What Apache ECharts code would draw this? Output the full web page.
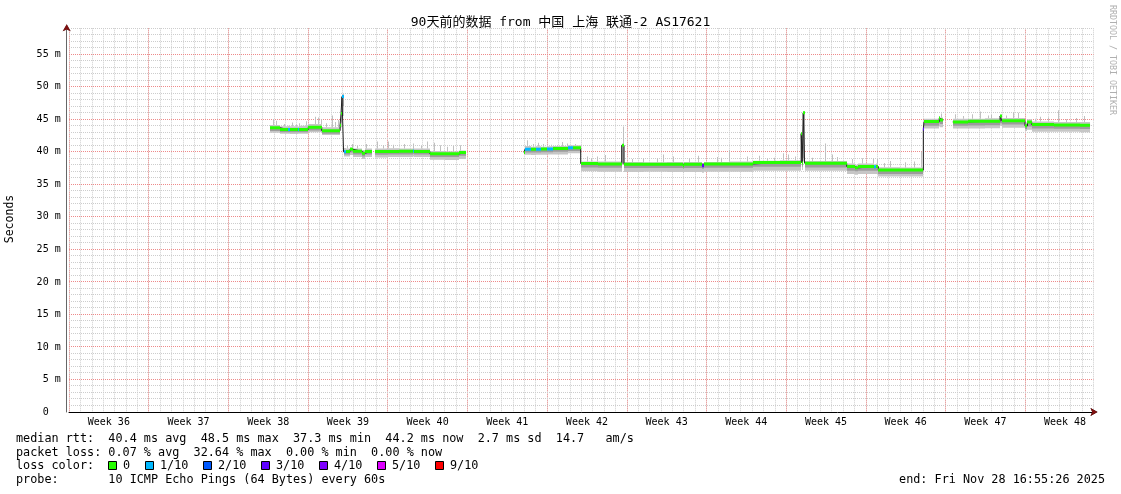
<!DOCTYPE html>
<html><head><meta charset="utf-8">
<script src="https://cdn.jsdelivr.net/npm/echarts@6/dist/echarts.min.js"></script>
<style>html,body{margin:0;padding:0;background:#fff}#c{width:1121px;height:494px}</style>
</head><body><div id="c"></div>
<script>
// ---------------- data ----------------
const titleText = '90天前的数据 from 中国 上海 联通-2 AS17621';
const yAxisName = 'Seconds';
const weekLabels = ['Week 36','Week 37','Week 38','Week 39','Week 40','Week 41','Week 42','Week 43','Week 44','Week 45','Week 46','Week 47','Week 48'];
const majorMs = [5, 10, 15, 20, 25, 30, 35, 40, 45, 50, 55];
const lossLabels = ['0','1/10','2/10','3/10','4/10','5/10','9/10'];
const lossColors = ['#26ff00','#00b8ff','#0059ff','#5e00ff','#7e00ff','#dd00ff','#ff0000'];
const statLines = [
  'median rtt:  40.4 ms avg  48.5 ms max  37.3 ms min  44.2 ms now  2.7 ms sd  14.7   am/s',
  'packet loss: 0.07 % avg  32.64 % max  0.00 % min  0.00 % now',
  'loss color:',
  'probe:       10 ICMP Echo Pings (64 Bytes) every 60s'
];
const endText = 'end: Fri Nov 28 16:55:26 2025';
const sideText = 'RRDTOOL / TOBI OETIKER';

// interval boundaries (days since first week grid line); value i holds from days[i] to days[i+1]
const days = [17.66,18.54,19.25,19.40,20.10,20.22,21.02,22.20,23.81,23.90,23.98,24.12,24.30,24.69,24.95,25.71,26.00,26.59,26.88,28.00,
  29.00,30.20,30.30,31.71,33.00,34.30,34.88,39.97,40.05,40.60,41.00,41.50,42.00,42.52,43.84,44.30,44.95,46.50,48.55,48.76,
  50.50,52.50,53.90,54.05,55.65,55.80,58.00,60.09,62.50,64.32,64.41,64.50,64.62,66.50,68.32,69.05,69.35,70.75,70.85,71.10,
  73.00,75.05,75.11,76.45,76.55,76.81,77.63,79.00,80.50,81.79,81.94,83.98,84.20,84.57,86.50,88.80,89.70];
// median rtt (ms)
const median = [43.70,43.45,43.45,43.45,43.45,43.45,43.80,43.25,44.10,45.90,48.50,40.00,40.05,40.40,40.10,39.80,40.05,null,40.05,40.05,
  40.10,40.15,40.05,39.70,39.70,39.90,null,39.90,40.40,40.40,40.40,40.45,40.45,40.50,40.65,40.65,38.20,38.15,41.00,38.10,
  38.10,38.10,37.85,38.10,37.85,38.15,38.15,38.35,38.35,42.80,38.30,46.00,38.25,38.25,37.75,37.55,37.75,37.70,37.75,37.20,
  37.20,43.50,44.65,45.20,44.90,null,44.60,44.70,44.70,45.50,44.80,44.00,44.60,44.20,44.15,44.10];
// loss class index into lossColors
const loss = [0,0,1,0,1,0,0,0,0,0,1,1,0,0,0,0,0,0,0,0,
  0,1,0,0,0,0,0,0,1,0,1,0,1,0,1,0,0,0,0,0,
  0,0,0,0,3,0,0,0,0,0,0,0,0,0,0,0,0,1,0,0,
  0,3,0,0,0,0,0,0,0,0,0,0,0,0,0,0];
// smoke: outer band
const smokeLo = [42.95,42.80,42.80,42.75,42.80,42.80,43.00,42.60,43.30,43.80,45.50,39.30,39.30,39.50,39.20,38.90,39.20,null,39.15,39.20,
  39.20,39.30,39.20,38.80,38.75,38.90,null,39.60,39.55,39.50,39.55,39.55,39.60,39.60,39.80,39.80,37.00,36.95,38.00,36.90,
  36.95,36.90,36.80,36.90,36.80,36.95,36.95,37.10,37.10,38.50,37.20,38.50,37.10,37.10,36.60,36.50,36.60,36.60,36.60,36.20,
  36.20,37.00,43.60,43.90,43.80,null,43.60,43.60,43.65,44.00,43.70,43.20,43.40,43.10,43.10,43.00];
const smokeHi = [44.15,43.95,44.00,43.95,43.90,44.00,44.30,43.80,44.60,46.30,48.90,40.60,40.50,40.70,40.50,40.30,40.50,null,40.50,40.55,
  40.50,40.60,40.50,40.15,40.10,40.20,null,40.10,40.90,40.80,40.85,40.80,40.85,40.90,41.00,41.00,38.50,38.50,41.20,38.45,
  38.40,38.45,38.30,38.45,38.30,38.45,38.50,38.65,38.70,43.00,38.70,46.20,38.60,38.60,38.20,38.00,38.20,38.10,38.20,37.65,
  37.60,43.70,45.10,45.50,45.30,null,45.10,45.10,45.15,45.70,45.20,44.50,45.00,44.65,44.60,44.60];
// smoke: darker core band
const coreLo = [43.20,43.00,43.00,43.00,43.00,43.00,43.30,42.80,43.70,44.50,47.00,39.60,39.60,39.90,39.60,39.30,39.60,null,39.55,39.60,
  39.60,39.70,39.60,39.20,39.20,39.40,null,39.80,39.90,39.90,39.90,39.95,39.95,40.00,40.15,40.15,37.60,37.55,38.20,37.50,
  37.50,37.50,37.40,37.50,37.40,37.55,37.55,37.70,37.70,39.00,37.70,39.00,37.60,37.60,37.10,37.00,37.10,37.10,37.10,36.60,
  36.60,37.50,44.00,44.40,44.30,null,44.00,44.05,44.10,44.40,44.20,43.50,43.90,43.60,43.55,43.50];
const coreHi = [43.75,43.50,43.50,43.50,43.50,43.50,43.85,43.30,44.15,46.00,48.60,40.05,40.10,40.45,40.15,39.85,40.10,null,40.10,40.10,
  40.15,40.20,40.10,39.75,39.75,39.95,null,39.95,40.45,40.45,40.45,40.50,40.50,40.55,40.70,40.70,38.25,38.20,41.05,38.15,
  38.15,38.15,37.90,38.15,37.90,38.20,38.20,38.40,38.40,42.85,38.35,46.05,38.30,38.30,37.80,37.60,37.80,37.75,37.80,37.25,
  37.25,43.55,44.70,45.25,44.95,null,44.65,44.75,44.75,45.55,44.85,44.05,44.65,44.25,44.20,44.15];
// single slow pings sticking out of the smoke
const spikeDays = [17.95,18.2,19.56,20.2,20.8,21.6,21.9,22.1,23.08,23.37,24.45,24.83,26.09,27.03,28.05,28.46,30.22,31.42,32.6,33.73,
  34.35,40.21,40.76,41.64,42.87,43.75,44.45,45.48,46.36,47.09,48.7,50.43,51.63,53.09,56.9,58.0,59.54,61.29,62.75,63.78,
  66.41,67.47,69.64,70.66,70.96,72.13,73.45,74.85,76.6,77.84,79.33,80.03,81.0,82.93,83.37,85.3,86.88,88.46,
  18.9,19.9,22.6,23.6,25.3,27.6,29.4,30.9,32.1,33.2,41.2,42.3,43.3,45.9,49.5,52.2,54.5,55.3,57.3,60.6,
  61.9,63.2,65.3,67.0,68.8,71.6,74.2,78.5,80.7,82.3,84.9,86.0,87.6,89.2];
const spikeTops = [45.0,44.8,44.5,44.4,44.7,45.4,45.3,45.0,45.6,44.6,41.0,41.2,41.2,41.6,41.6,41.1,41.3,41.6,41.0,40.9,
  41.0,41.8,41.2,41.2,41.0,41.3,41.2,39.3,39.3,39.5,43.9,39.0,39.0,39.3,39.2,40.3,39.3,39.0,39.8,39.3,
  41.3,39.2,39.0,39.0,38.9,38.6,38.4,40.0,45.9,45.8,45.8,46.2,45.7,46.1,46.0,45.4,46.4,45.2,
  44.3,44.2,44.4,44.9,40.9,41.0,41.2,40.9,41.4,40.8,41.4,41.1,41.5,39.0,38.9,39.6,39.0,39.4,39.1,39.4,
  39.1,39.6,39.1,39.6,38.9,38.3,38.5,45.5,45.6,45.6,45.1,45.3,45.0,45.5];

// ---------------- chart ----------------
const MONO = '"DejaVu Sans Mono", "Noto Sans CJK SC", monospace';
const RED = '#ee8a8a', GRY = '#cdcdcd', ARROW = '#7f1010';
const Y_MAX = 59, X_MAX = 90;
const minorMs = [];
for (let v = 1; v <= Y_MAX; v++) if (majorMs.indexOf(v) < 0) minorMs.push(v);

const smokeData = [], bandData = [], lineData = [];
for (let i = 0; i < median.length; i++) {
  const t0 = days[i], t1 = days[i + 1], v = median[i];
  if (v === null) { lineData.push([t0, null]); continue; }
  smokeData.push([t0, t1, smokeLo[i], smokeHi[i], coreLo[i], coreHi[i]]);
  bandData.push([t0, t1, v, loss[i]]);
  lineData.push([t0, v], [t1, v]);
}
const spikeData = spikeDays.map((d, k) => {
  let i = 0; while (i < median.length - 1 && days[i + 1] <= d) i++;
  return [d, smokeHi[i], spikeTops[k]];
});

function renderGrid(params, api) {
  const kids = [];
  const add = (v, color) => {
    const a = api.coord([0, v]), b = api.coord([X_MAX, v]);
    const y = Math.round(a[1] - 0.5) + 0.5;
    kids.push({type: 'line', shape: {x1: a[0], y1: y, x2: b[0], y2: y}, style: {stroke: color, lineWidth: 1, lineDash: [1, 1], fill: null}});
  };
  minorMs.forEach(v => add(v, GRY));
  majorMs.forEach(v => add(v, RED));
  return {type: 'group', children: kids};
}
function renderSmoke(params, api) {
  const a = api.coord([api.value(0), api.value(3)]), b = api.coord([api.value(1), api.value(2)]);
  const c = api.coord([api.value(0), api.value(5)]), d = api.coord([api.value(1), api.value(4)]);
  const x0 = Math.round(a[0]), x1 = Math.max(x0 + 1, Math.round(b[0]));
  return {type: 'group', children: [
    {type: 'rect', shape: {x: x0, y: a[1], width: x1 - x0, height: b[1] - a[1]}, style: {fill: '#c6c6c6'}},
    {type: 'rect', shape: {x: x0, y: c[1], width: x1 - x0, height: d[1] - c[1]}, style: {fill: '#9c9c9c'}}
  ]};
}
function renderSpike(params, api) {
  const p = api.coord([api.value(0), api.value(2)]), q = api.coord([api.value(0), api.value(1)]);
  return {type: 'rect', shape: {x: Math.round(p[0]), y: p[1], width: 1, height: q[1] - p[1]}, style: {fill: '#c0c0c0'}};
}
function renderBand(params, api) {
  const a = api.coord([api.value(0), api.value(2)]), b = api.coord([api.value(1), api.value(2)]);
  const x0 = Math.round(a[0]), x1 = Math.max(x0 + 1, Math.round(b[0]));
  return {type: 'rect', shape: {x: x0, y: a[1] - 1.5, width: x1 - x0, height: 3}, style: {fill: lossColors[api.value(3)]}};
}

const graphic = [
  {type: 'text', x: 560.5, y: 23, silent: true, style: {text: titleText, font: '13px ' + MONO, fill: '#000', textAlign: 'center', textVerticalAlign: 'middle'}},
  {type: 'text', x: 10, y: 219, rotation: Math.PI / 2, silent: true, style: {text: yAxisName, font: '11.5px ' + MONO, fill: '#000', textAlign: 'center', textVerticalAlign: 'middle'}},
  {type: 'text', x: 1112, y: 60, rotation: -Math.PI / 2, silent: true, style: {text: sideText, font: '8.3px ' + MONO, fill: '#b0b0b0', textAlign: 'center', textVerticalAlign: 'middle'}},
  {type: 'text', x: 1105, y: 480.3, silent: true, style: {text: endText, font: '11.8px ' + MONO, fill: '#000', textAlign: 'right', textVerticalAlign: 'middle'}}
];
const lineY = [438.5, 452.5, 466.3, 480.3];
statLines.forEach((s, i) => graphic.push({type: 'text', x: 16, y: lineY[i], silent: true,
  style: {text: s, font: '11.8px ' + MONO, fill: '#000', textAlign: 'left', textVerticalAlign: 'middle'}}));
const boxX = [108, 145, 203, 261, 319, 377, 435];
lossLabels.forEach((l, i) => {
  graphic.push({type: 'rect', silent: true, shape: {x: boxX[i] + 0.5, y: 461.5, width: 8, height: 8},
    style: {fill: lossColors[i], stroke: '#000', lineWidth: 1}});
  graphic.push({type: 'text', x: boxX[i] + 15, y: 466.3, silent: true,
    style: {text: l, font: '11.8px ' + MONO, fill: '#000', textAlign: 'left', textVerticalAlign: 'middle'}});
});

const hidden = {axisLine: {show: false}, axisTick: {show: false}, axisLabel: {show: false}};
const chart = echarts.init(document.getElementById('c'), null, {renderer: 'canvas'});
chart.setOption({
  animation: false,
  backgroundColor: '#fff',
  grid: {left: 69, right: 27.5, top: 28.3, bottom: 82, containLabel: false, outerBoundsMode: 'none'},
  xAxis: [
    // daily minor grid + axis line
    {type: 'value', min: 0, max: X_MAX, interval: 1, position: 'bottom',
      axisLine: {show: true, onZero: false, lineStyle: {color: '#000', width: 1}, symbol: ['none', 'arrow'], symbolSize: [6, 7], symbolOffset: [0, 4]},
      axisTick: {show: false}, axisLabel: {show: false},
      splitLine: {show: true, lineStyle: {color: GRY, type: [1, 1], width: 1}}},
    // week labels, centred on each week
    {type: 'value', min: 0, max: X_MAX, interval: 3.5, position: 'bottom',
      axisLine: {show: false}, axisTick: {show: false}, splitLine: {show: false},
      axisLabel: {show: true, margin: 5, fontFamily: MONO, fontSize: 10, color: '#000',
        formatter: v => { const k = (v - 3.5) / 7; return (Math.abs(k - Math.round(k)) < 1e-6 && weekLabels[Math.round(k)]) ? weekLabels[Math.round(k)] : ''; }}},
    // weekly major grid
    Object.assign({type: 'value', min: 0, max: X_MAX, interval: 7, position: 'bottom',
      splitLine: {show: true, showMinLine: true, showMaxLine: false, lineStyle: {color: RED, type: [1, 1], width: 1}}}, hidden),
    // arrow head
    {type: 'value', min: 0, max: X_MAX, position: 'bottom', axisTick: {show: false}, axisLabel: {show: false}, splitLine: {show: false},
      axisLine: {show: true, onZero: false, lineStyle: {color: ARROW, opacity: 0}, symbol: ['none', 'arrow'], symbolSize: [6, 7], symbolOffset: [0, 4]}}
  ],
  yAxis: [
    {type: 'value', min: 0, max: Y_MAX, interval: 1, offset: 2.3, position: 'left',
      axisLine: {show: true, onZero: false, lineStyle: {color: '#666', width: 1}, symbol: ['none', 'arrow'], symbolSize: [6, 7], symbolOffset: [0, 4]},
      axisTick: {show: false},
      axisLabel: {margin: 6, fontFamily: MONO, fontSize: 10, color: '#000',
        formatter: v => (v % 5 === 0) ? (v === 0 ? '0  ' : v + ' m') : ''},
      splitLine: {show: false}},
    {type: 'value', min: 0, max: Y_MAX, offset: 2.3, position: 'left', axisTick: {show: false}, axisLabel: {show: false}, splitLine: {show: false},
      axisLine: {show: true, onZero: false, lineStyle: {color: ARROW, opacity: 0}, symbol: ['none', 'arrow'], symbolSize: [6, 7], symbolOffset: [0, 4]}}
  ],
  series: [
    // horizontal grid: 1 ms minor (grey), 5 ms major (red)
    {type: 'custom', xAxisIndex: 0, yAxisIndex: 0, renderItem: renderGrid, data: [[0, 0]], encode: {x: 0, y: 1}, clip: false, z: 1, silent: true},
    {type: 'custom', xAxisIndex: 0, yAxisIndex: 0, renderItem: renderSmoke, data: smokeData, encode: {x: [0, 1], y: [2, 3]}, clip: true, z: 1, silent: true},
    {type: 'custom', xAxisIndex: 0, yAxisIndex: 0, renderItem: renderSpike, data: spikeData, encode: {x: 0, y: [1, 2]}, clip: true, z: 1, silent: true},
    {type: 'line', xAxisIndex: 0, yAxisIndex: 0, data: lineData, showSymbol: false, symbol: 'none', connectNulls: false,
      lineStyle: {color: '#202020', width: 1}, z: 2, silent: true},
    {type: 'custom', xAxisIndex: 0, yAxisIndex: 0, renderItem: renderBand, data: bandData, encode: {x: [0, 1], y: 2}, clip: true, z: 3, silent: true}
  ],
  graphic: graphic
});
</script>
</body></html>
